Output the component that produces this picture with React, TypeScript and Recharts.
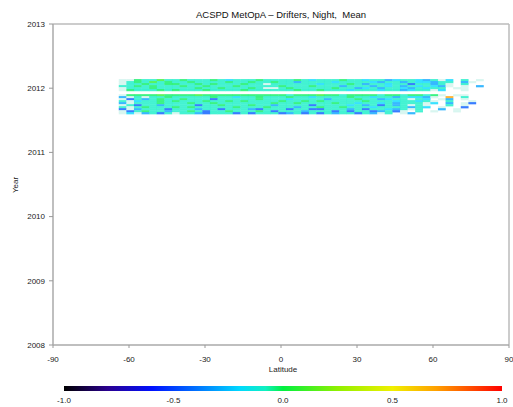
import React from 'react';
import { ScatterChart, Scatter, XAxis, YAxis, ReferenceLine } from 'recharts';

const TITLE = 'ACSPD MetOpA – Drifters, Night,  Mean';
const LAT_TICKS = [-90, -60, -30, 0, 30, 60, 90];
const YEAR_TICKS = [2008, 2009, 2010, 2011, 2012, 2013];
const CBAR_TICKS = [-1.0, -0.5, 0.0, 0.5, 1.0];

// each code char is one 3-degree latitude bin, first bin starts at -64
const LAT_BIN_START = -64;
const LAT_BIN_WIDTH = 3;

// daily rows (decimal year)
const ROW_YEARS = [
  2012.125, 2012.094, 2012.063, 2012.031, 2012.0, 2011.97,
  2011.89, 2011.86, 2011.828, 2011.797, 2011.766, 2011.734, 2011.703, 2011.672, 2011.64, 2011.61,
];

// b blue, a azure, c cyan, t teal, g green, l lime, o orange, p pale, . empty
const ROW_CODES = [
  'ppgttltt gtttgtct ttgttttg tctttgtt cttacttc atpc.t.p',
  'ptgtltgt tgttttgt tgttgtta ttttcttt tcattatc catt.ap.',
  'pttgttgg ttgtgttt gttptttt ttctttgt attcttbt tatp.t..',
  'ttgtgttt gttgtttg tttttgtt tgtttatt tatctatc tcap.p.a',
  'ptttgttt ttgttgtt tgtpptgt ttttgtta ctattcat ctt.pp..',
  'pgtttgtg tttgtttt gttttttg ttgtttct ttcttact tpc..p..',
  'pgggglgg gglggggg ggggggtg gglggtgg ggtggtgg tgp.pp..',
  'aptpttgt ttttgttc ttgtttgt tcttttgt tcttatcc ap.o.t..',
  'pbtatgtt gtttbttt ttgtttct tttatttg ttacttpt c.pa.p..',
  'tpcttgtg tttgttgt gttttgtt gtgttttt gtttcttc tp.t..p.',
  'aptttgtt tgttgttt ttttgttg ttttgttc ttctattt pc.a.pb.',
  'ptbttatt ttbttgtt tgttattt tbttttct atbtatpt p..t.p..',
  'tptgtttg tgtttttg tttgttta ttgttgtt tcttttat c.p..b..',
  'bpatttbt ttattbtt tabtttbt tbbtttat bttcatpt ..a.p...',
  'pbtgttat tgtbttgt ttgtbttt atttbtbt tbatbp.t .p..p...',
  'pcpatbtp ttabtttb tbtttbat btbtattb tapt.pa. ........',
];

const CODE_VALUES: Record<string, number> = {
  b: -0.45, a: -0.3, c: -0.2, t: -0.09, g: -0.02, l: 0.08, o: 0.7, p: -0.08,
};

const CMAP: [number, string][] = [
  [-1.0, '#000000'], [-0.8, '#2a0090'], [-0.6, '#0010ff'], [-0.4, '#0070ff'],
  [-0.2, '#00d8ff'], [-0.08, '#10f0c0'], [0.0, '#00f040'], [0.25, '#90f000'],
  [0.5, '#f0f000'], [0.7, '#ffa000'], [0.85, '#ff5000'], [1.0, '#ff0000'],
];

const hex = (c: string) => [1, 3, 5].map(i => parseInt(c.slice(i, i + 2), 16));

const colorFor = (v: number) => {
  for (let i = 1; i < CMAP.length; i++) {
    const [v0, c0] = CMAP[i - 1];
    const [v1, c1] = CMAP[i];
    if (v <= v1) {
      const f = (v - v0) / (v1 - v0);
      const a = hex(c0), b = hex(c1);
      return `rgb(${a.map((x, k) => Math.round(x + (b[k] - x) * f)).join(',')})`;
    }
  }
  return CMAP[CMAP.length - 1][1];
};

const points: { lat: number; year: number; code: string }[] = [];
ROW_CODES.forEach((row, r) => {
  row.replace(/ /g, '').split('').forEach((code, i) => {
    if (code === '.') return;
    points.push({ lat: LAT_BIN_START + LAT_BIN_WIDTH * i + LAT_BIN_WIDTH / 2, year: ROW_YEARS[r], code });
  });
});

const CellShape = (props: any) => {
  const { cx, cy, payload } = props;
  const fill = payload.code === 'p' ? '#cdf3ec' : colorFor(CODE_VALUES[payload.code]);
  return <rect x={cx - 3.9} y={cy - 1.1} width={7.8} height={2.2} fill={fill} fillOpacity={0.78} />;
};

const FONT = 'Liberation Sans, Arial, sans-serif';
const tickStyle = { fontSize: 8, fill: '#222', fontFamily: FONT };

export default function App() {
  const cbX0 = 64;
  const cbW = 438;
  return (
    <div style={{ position: 'absolute', left: 0, top: 0, width: 513, height: 407, background: '#fff', fontFamily: FONT }}>
      <div style={{ position: 'absolute', left: 53, top: 9, width: 456, textAlign: 'center', fontSize: 9.5, lineHeight: '11px', color: '#111', whiteSpace: 'pre' }}>
        {TITLE}
      </div>
      <ScatterChart width={513} height={407} margin={{ top: 24, right: 4, left: 0, bottom: 32 }}>
        <XAxis
          type="number"
          dataKey="lat"
          domain={[-90, 90]}
          ticks={LAT_TICKS}
          height={30}
          tick={tickStyle}
          tickSize={3}
          tickMargin={8}
          axisLine={{ stroke: '#aaa', strokeWidth: 1.5 }}
          tickLine={{ stroke: '#999' }}
          allowDataOverflow
        />
        <YAxis
          type="number"
          dataKey="year"
          domain={[2008, 2013]}
          ticks={YEAR_TICKS}
          width={53}
          tick={tickStyle}
          tickSize={4}
          tickMargin={4}
          axisLine={{ stroke: '#aaa', strokeWidth: 1.5 }}
          tickLine={{ stroke: '#999' }}
          allowDataOverflow
        />
        <ReferenceLine y={2013} stroke="#bbb" strokeWidth={1.5} />
        <ReferenceLine x={90} stroke="#bbb" strokeWidth={1.5} />
        <Scatter data={points} shape={CellShape} isAnimationActive={false} />
      </ScatterChart>
      <div style={{ position: 'absolute', left: 243, top: 365, width: 80, textAlign: 'center', fontSize: 8, lineHeight: '10px', color: '#222' }}>
        Latitude
      </div>
      <div style={{ position: 'absolute', left: -4, top: 180, width: 40, textAlign: 'center', fontSize: 8, lineHeight: '10px', color: '#222', transform: 'rotate(-90deg)' }}>
        Year
      </div>
      <svg style={{ position: 'absolute', left: 0, top: 380 }} width={513} height={27}>
        <defs>
          <linearGradient id="cbar" x1="0" y1="0" x2="1" y2="0">
            {CMAP.map(([v, c]) => (
              <stop key={v} offset={`${((v + 1) / 2) * 100}%`} stopColor={c} />
            ))}
          </linearGradient>
        </defs>
        <rect x={cbX0} y={6} width={cbW} height={5} fill="url(#cbar)" />
        {CBAR_TICKS.map(v => (
          <text key={v} x={cbX0 + ((v + 1) / 2) * cbW} y={23} textAnchor="middle" fontSize={8} fill="#222" fontFamily={FONT}>
            {v.toFixed(1)}
          </text>
        ))}
      </svg>
    </div>
  );
}
